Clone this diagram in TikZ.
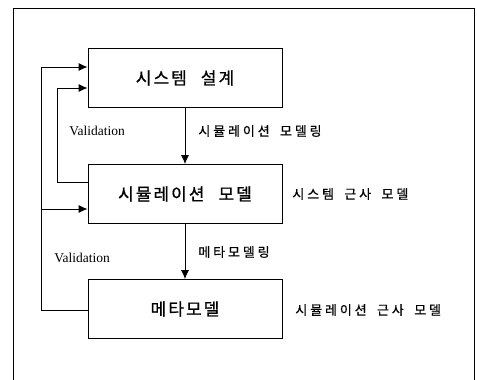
\documentclass[tikz,border=0pt]{standalone}
\usepackage{fontspec}
\setmainfont{Liberation Serif}
\newfontfamily\kr[LetterSpace=12,WordSpace=2.4,FakeBold=0.8]{Noto Sans CJK KR}
\newfontfamily\krnote[LetterSpace=22,WordSpace=1.8,FakeBold=0.6]{Noto Sans CJK KR}
\usetikzlibrary{arrows.meta}
\begin{document}
\begin{tikzpicture}[x=1pt,y=-1pt,
  line width=0.8pt,
  stage/.style={draw, minimum width=194pt, minimum height=59pt, inner sep=0pt,
                font=\kr\fontsize{17}{20}\selectfont},
  note/.style={font=\krnote\fontsize{13}{15}\selectfont, anchor=west, inner sep=0pt},
  vlabel/.style={font=\fontsize{13.5}{16}\selectfont, inner sep=0pt},
  flow/.style={-{Latex[length=9pt,width=8pt]}}]
\useasboundingbox (0,0) rectangle (477,380);
% page frame, open at the bottom
\draw[line width=0.7pt] (13,382) -- (13,8) -- (474,8) -- (474,382);

% the three stages
\node[stage] (sys)  at (185,78)  {시스템 설계};
\node[stage] (sim)  at (185,194) {시뮬레이션 모델};
\node[stage] (meta) at (185,309) {메타모델};

% forward modelling steps
\draw[flow] (sys.south) -- (sim.north);
\draw[flow] (sim.south) -- (meta.north);
\node[note] (l1) at (198,131) {시뮬레이션 모델링};
\node[note] (l2) at (198,252) {메타모델링};

% approximation remarks
\node[note] (r1) at (292,194) {시스템 근사 모델};
\node[note] (r2) at (295,310) {시뮬레이션 근사 모델};

% validation loops
\coordinate (a1) at (57,88);
\coordinate (a2) at (57,182);
\draw[flow] (sim.west |- a2) -- (a2) -- (a1) -- (sys.west |- a1);

\coordinate (b0) at (41,310);
\coordinate (b1) at (41,67);
\coordinate (b2) at (41,209);
\draw[flow] (meta.west |- b0) -- (b0) -- (b1) -- (sys.west |- b1);
\draw[flow] (b2) -- (sim.west |- b2);

\node[vlabel] (v1) at (97,131) {Validation};
\node[vlabel] (v2) at (82,258) {Validation};
\end{tikzpicture}
\end{document}
